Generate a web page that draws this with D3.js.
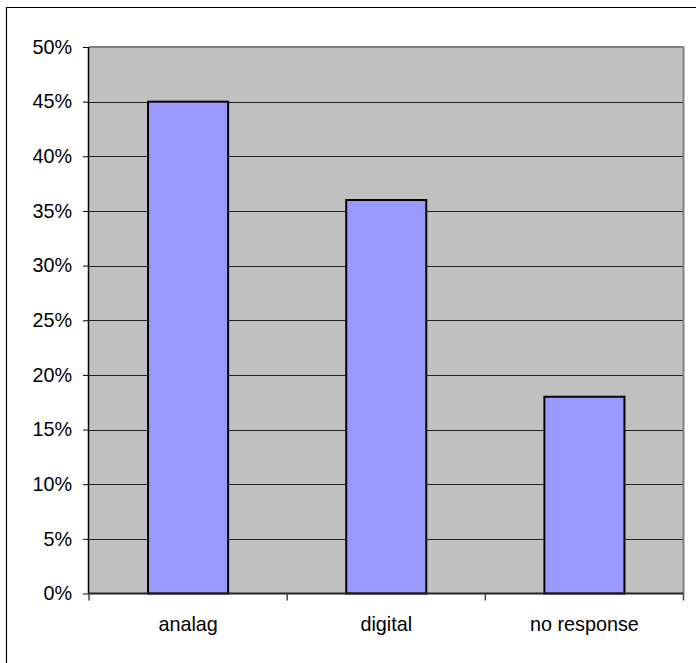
<!DOCTYPE html>
<html>
<head>
<meta charset="utf-8">
<script src="https://cdn.jsdelivr.net/npm/d3@7"></script>
<style>
  html, body { margin: 0; padding: 0; background: #fff; }
  svg { display: block; }
  text { font-family: "Liberation Sans", Arial, sans-serif; fill: #000; }
</style>
</head>
<body>
<svg id="chart" width="696" height="663"></svg>
<script>
// Survey answers, share of respondents
const categories = ["analag", "digital", "no response"];
const shares = [0.45, 0.36, 0.18];
const yTickValues = [0, 0.05, 0.10, 0.15, 0.20, 0.25, 0.30, 0.35, 0.40, 0.45, 0.50];

const W = 696, H = 663;
const plot = { left: 89, right: 683.5, top: 47, bottom: 593.5 };
const fontSize = 19.8;

const svg = d3.select("#chart");

// chart frame (left and top edges)
svg.append("path")
  .attr("d", `M6.5,${H + 2}V7.5H${W + 2}`)
  .attr("fill", "none")
  .attr("stroke", "#000")
  .attr("stroke-width", 1.2);

const y = d3.scaleLinear().domain([0, 0.5]).range([plot.bottom, plot.top]);
const x = d3.scaleBand()
  .domain(categories)
  .range([plot.left, plot.right])
  .paddingInner(0.596)
  .paddingOuter(0.298);

// plot area background
svg.append("rect")
  .attr("x", plot.left)
  .attr("y", plot.top)
  .attr("width", plot.right - plot.left)
  .attr("height", plot.bottom - plot.top)
  .attr("fill", "#c0c0c0");

// horizontal gridlines
svg.append("g")
  .selectAll("line")
  .data(yTickValues.filter(v => v > 0 && v < 0.5))
  .join("line")
  .attr("x1", plot.left)
  .attr("x2", plot.right)
  .attr("y1", d => Math.round(y(d)) + 0.5)
  .attr("y2", d => Math.round(y(d)) + 0.5)
  .attr("stroke", "#222")
  .attr("stroke-width", 1);

// plot border, top and right
svg.append("path")
  .attr("d", `M${plot.left},${plot.top}H${plot.right}V${plot.bottom}`)
  .attr("fill", "none")
  .attr("stroke", "#808080")
  .attr("stroke-width", 2);

// bars
svg.append("g")
  .selectAll("rect")
  .data(categories.map((c, i) => ({ c, v: shares[i] })))
  .join("rect")
  .attr("x", d => x(d.c))
  .attr("y", d => y(d.v))
  .attr("width", x.bandwidth())
  .attr("height", d => y(0) - y(d.v))
  .attr("fill", "#9999ff")
  .attr("stroke", "#000")
  .attr("stroke-width", 2);

// y axis
const yAxis = svg.append("g")
  .attr("transform", `translate(${plot.left},0)`)
  .call(d3.axisLeft(y)
    .tickValues(yTickValues)
    .tickFormat(d3.format(".0%"))
    .tickSize(6)
    .tickPadding(11));
yAxis.select(".domain").attr("stroke", "#000").attr("stroke-width", 1.5)
  .attr("d", `M-0.5,${plot.top}V${plot.bottom}`);
yAxis.selectAll(".tick line").attr("stroke", "#000");
yAxis.selectAll(".tick text")
  .style("font-size", fontSize + "px")
  .style("font-family", '"Liberation Sans", Arial, sans-serif')
  .attr("fill", "#000");

// x axis with ticks at category boundaries
const gap = (x.step() - x.bandwidth()) / 2;
const boundaries = categories.map(c => x(c) - gap).concat([plot.right]);
const xAxis = svg.append("g");
xAxis.append("line")
  .attr("x1", plot.left - 1)
  .attr("x2", plot.right)
  .attr("y1", plot.bottom)
  .attr("y2", plot.bottom)
  .attr("stroke", "#222")
  .attr("stroke-width", 2);
xAxis.selectAll("line.tick")
  .data(boundaries)
  .join("line")
  .attr("class", "tick")
  .attr("x1", d => d)
  .attr("x2", d => d)
  .attr("y1", plot.bottom)
  .attr("y2", plot.bottom + 7)
  .attr("stroke", "#444")
  .attr("stroke-width", 1.5);
xAxis.selectAll("text")
  .data(categories)
  .join("text")
  .attr("x", d => x(d) + x.bandwidth() / 2)
  .attr("y", 631)
  .attr("text-anchor", "middle")
  .style("font-size", fontSize + "px")
  .text(d => d);
</script>
</body>
</html>
